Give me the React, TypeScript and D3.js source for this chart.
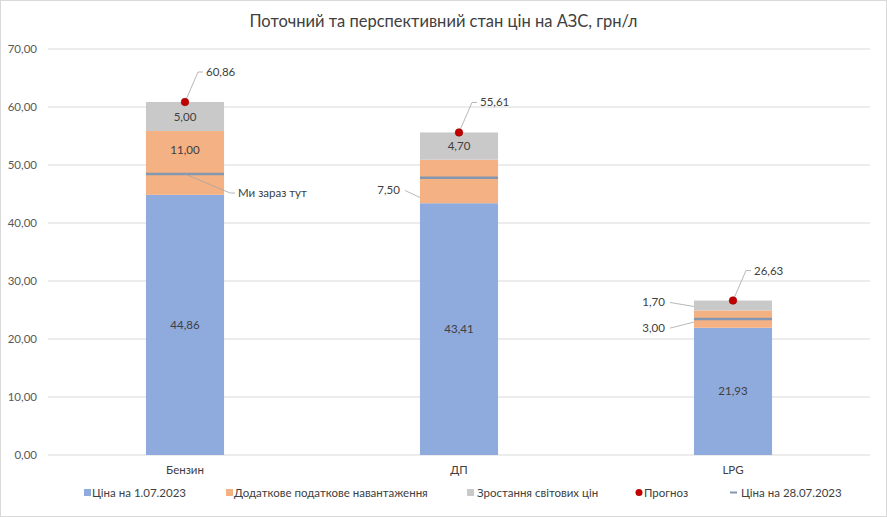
import React from "react";
import * as d3 from "d3";

const categories = ["Бензин", "ДП", "LPG"];
const basePrice = [44.86, 43.41, 21.93];
const taxLoad = [11.0, 7.5, 3.0];
const worldGrowth = [5.0, 4.7, 1.7];
const forecast = [60.86, 55.61, 26.63];
const currentPrice = [48.45, 47.8, 23.45];
const yTicks = [0, 10, 20, 30, 40, 50, 60, 70];
const seriesNames = ["Ціна на 1.07.2023", "Додаткове податкове навантаження", "Зростання світових цін", "Прогноз", "Ціна на 28.07.2023"];
const title = "Поточний та перспективний стан цін на АЗС, грн/л";
const nowLabel = "Ми зараз тут";

const W = 887, H = 517;
const colors = ["#8faadc", "#f4b183", "#c9c9c9"];
const FONT = "Lato, 'Open Sans', sans-serif";
const TXT = "#404040";
const fmt = (v: number) => d3.format(".2f")(v).replace(".", ",");

export default function App() {
  const x = d3.scaleBand().domain(categories).range([48, 870]).paddingInner(0.715).paddingOuter(0.3575);
  const y = d3.scaleLinear().domain([0, 70]).range([455, 49]);
  const bw = x.bandwidth();
  const series = [basePrice, taxLoad, worldGrowth];
  const stackData = categories.map((c, i) => ({ c, s0: basePrice[i], s1: taxLoad[i], s2: worldGrowth[i] }));
  const stacked = d3.stack<any>().keys(["s0", "s1", "s2"])(stackData);

  // segment labels that sit outside to the left: key = catIndex-seriesIndex
  const outside: Record<string, { dx: number; dy: number; ey: number }> = {
    "1-1": { dx: -20, dy: 9, ey: 16 },
    "2-1": { dx: -29, dy: 9, ey: 3 },
    "2-2": { dx: -29, dy: -3, ey: 1 },
  };
  const insideShift: Record<string, number> = { "0-1": -13 };

  const legendX = [84, 226, 467, 636, 730];
  const legendTextX = [92, 234, 477, 644, 741];
  return (
    <svg width={W} height={H} style={{ display: "block", position: "absolute", left: 0, top: 0 }} fontFamily={FONT}>
      <rect x={0.5} y={0.5} width={W - 1} height={H - 1} fill="#fff" stroke="#d9d9d9" />
      <text x={W / 2} y={27} textAnchor="middle" fontSize={16.5} fill={TXT}>{title}</text>
      {yTicks.map((t) => (
        <g key={t}>
          <line x1={48} x2={870} y1={y(t)} y2={y(t)} stroke="#d9d9d9" strokeWidth={1} />
          <text x={37} y={y(t) + 4} textAnchor="end" fontSize={11.5} fill="#595959">{fmt(t)}</text>
        </g>
      ))}
      {stacked.map((layer, si) =>
        layer.map((d, ci) => {
          const bx = x(categories[ci])!;
          const y0 = y(d[0]), y1 = y(d[1]);
          const key = `${ci}-${si}`;
          const o = outside[key];
          const cy = (y0 + y1) / 2 + (insideShift[key] || 0);
          const v = series[si][ci];
          return (
            <g key={key}>
              <rect x={bx} y={y1} width={bw} height={y0 - y1} fill={colors[si]} />
              {o ? (
                <g>
                  <polyline points={`${bx + o.dx + 5},${cy + o.dy} ${bx},${cy + o.ey}`} fill="none" stroke="#a6a6a6" strokeWidth={0.8} />
                  <text x={bx + o.dx} y={cy + o.dy + 4} textAnchor="end" fontSize={11.5} fill={TXT}>{fmt(v)}</text>
                </g>
              ) : (
                <text x={bx + bw / 2} y={cy + 4} textAnchor="middle" fontSize={11.5} fill={TXT}>{fmt(v)}</text>
              )}
            </g>
          );
        })
      )}
      {categories.map((c, i) => {
        const cx = x(c)! + bw / 2;
        const bx = x(c)!;
        const yc = y(currentPrice[i]);
        const yf = y(forecast[i]);
        return (
          <g key={c}>
            <line x1={bx} x2={bx + bw} y1={yc} y2={yc} stroke="#8497b0" strokeWidth={2.5} />
            <polyline points={`${cx},${yf} ${cx + 13},${yf - 30} ${cx + 18},${yf - 30}`} fill="none" stroke="#a6a6a6" strokeWidth={0.8} />
            <circle cx={cx} cy={yf} r={3.8} fill="#c00000" stroke="#9b0000" strokeWidth={0.6} />
            <text x={cx + 21} y={yf - 26} fontSize={11.5} fill={TXT}>{fmt(forecast[i])}</text>
            <text x={cx} y={474} textAnchor="middle" fontSize={11.5} fill={TXT}>{c}</text>
            {i === 0 && (
              <g>
                <polyline points={`${cx},${yc} ${cx + 45},${yc + 19} ${cx + 50},${yc + 19}`} fill="none" stroke="#a6a6a6" strokeWidth={0.8} />
                <text x={cx + 53} y={yc + 23} fontSize={11.5} fill={TXT}>{nowLabel}</text>
              </g>
            )}
          </g>
        );
      })}
      {seriesNames.map((n, i) => {
        const lx = legendX[i];
        return (
          <g key={n}>
            {i < 3 && <rect x={lx} y={489} width={7} height={7} fill={colors[i]} />}
            {i === 3 && <circle cx={lx + 3} cy={492.5} r={3.5} fill="#c00000" />}
            {i === 4 && <line x1={lx} x2={lx + 7} y1={492.5} y2={492.5} stroke="#8497b0" strokeWidth={2} />}
            <text x={legendTextX[i]} y={497} fontSize={11.5} fill={TXT}>{n}</text>
          </g>
        );
      })}
    </svg>
  );
}
